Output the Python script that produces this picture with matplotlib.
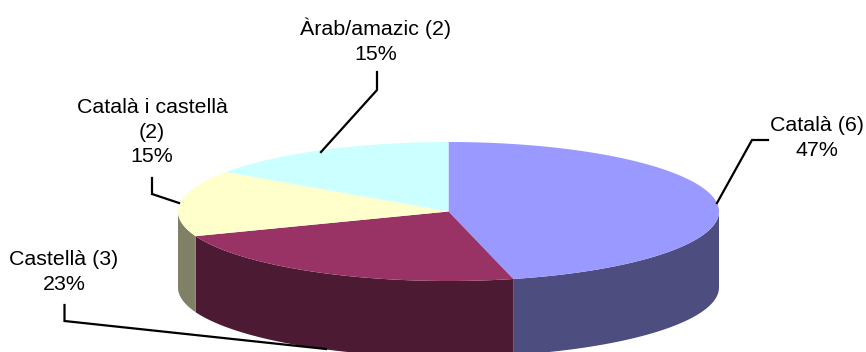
import numpy as np
import matplotlib
matplotlib.use('Agg')
import matplotlib.pyplot as plt

labels = ['Català (6)\n47%', 'Castellà (3)\n23%', 'Català i castellà\n(2)\n15%', 'Àrab/amazic (2)\n15%']
counts = [6, 3, 2, 2]
top_colors = ['#9999ff', '#993366', '#ffffcc', '#ccffff']
side_colors = ['#4d4d80', '#4d1a33', '#808066', '#668080']

# pie geometry, in pixels
cx, cy = 448.5, 211.5
rx, ry = 270.5, 69.5
depth = 76

plt.rcParams['font.family'] = ['Liberation Sans', 'DejaVu Sans']

fig = plt.figure(figsize=(8.66, 3.52), dpi=100)
ax = fig.add_axes([0, 0, 1, 1])
ax.set_xlim(0, 866)
ax.set_ylim(352, 0)
ax.axis('off')

def rim(a0, a1):
    t = np.radians(np.linspace(a0, a1, 200))
    return cx + rx * np.sin(t), cy - ry * np.cos(t)

edges = np.concatenate([[0], np.cumsum(counts)]) / sum(counts) * 360

# walls first, only the front half of the rim shows
for i in range(len(counts)):
    a0 = max(edges[i], 90)
    a1 = min(edges[i + 1], 270)
    if a1 <= a0:
        continue
    x, y = rim(a0, a1)
    ax.fill(np.r_[x, x[::-1]], np.r_[y, y[::-1] + depth], color=side_colors[i], lw=0)

for i in range(len(counts)):
    x, y = rim(edges[i], edges[i + 1])
    ax.fill(np.r_[cx, x], np.r_[cy, y], color=top_colors[i], lw=0)

# leader lines
leaders = [
    [(717, 203), (752, 140), (768, 140)],
    [(326, 349), (64.5, 321), (64.5, 305)],
    [(179, 203), (152, 194), (152, 178)],
    [(321, 152), (377, 90), (377, 72)],
]
for pts in leaders:
    xs, ys = zip(*pts)
    ax.plot(xs, ys, color='black', lw=1.6, solid_joinstyle='miter')

label_pos = [(817, 138), (64, 272), (152, 132), (375.5, 41)]
for txt, (x, y) in zip(labels, label_pos):
    ax.text(x, y, txt, ha='center', va='center', fontsize=15.4, linespacing=1.38, color='black')

fig.savefig('out.png', dpi=100)
